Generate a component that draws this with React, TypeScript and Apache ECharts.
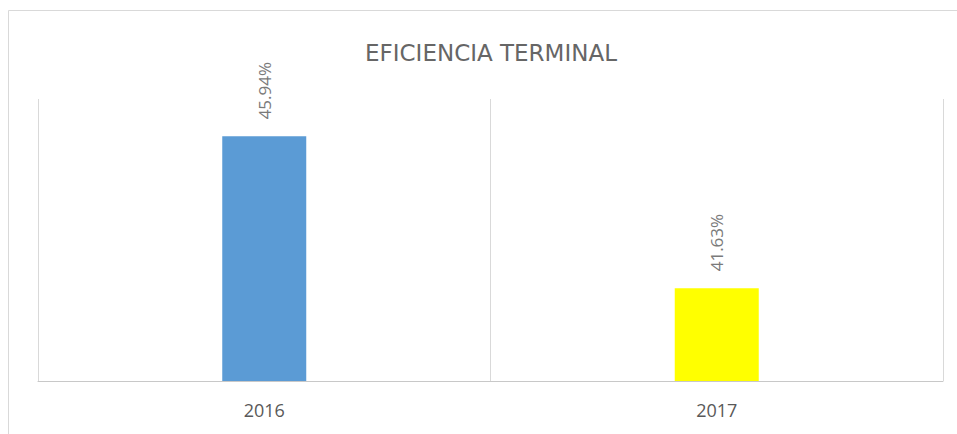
import React, { useEffect, useRef } from "react";
import * as echarts from "echarts";

const categories = ["2016", "2017"];
const values = [45.94, 41.63];
const barColors = ["#5B9BD5", "#FFFF00"];
const titleText = "EFICIENCIA TERMINAL";

export default function App() {
  const ref = useRef<HTMLDivElement>(null);
  useEffect(() => {
    if (!ref.current) return;
    const chart = echarts.init(ref.current, undefined, { renderer: "svg" });
    chart.setOption({
      animation: false,
      backgroundColor: "#ffffff",
      title: {
        text: titleText,
        left: 486,
        textAlign: "center",
        top: 36,
        textStyle: {
          fontFamily: "'DejaVu Sans', sans-serif",
          fontSize: 23,
          fontWeight: "normal",
          color: "#666666",
        },
      },
      graphic: [
        {
          type: "rect",
          shape: { x: 8.5, y: 10.5, width: 1000, height: 500 },
          style: { fill: "none", stroke: "#d9d9d9", lineWidth: 1 },
          silent: true,
        },
      ],
      grid: { left: 38, right: 14, top: 99, bottom: 53 },
      xAxis: {
        type: "category",
        data: categories,
        boundaryGap: true,
        axisLine: { show: true, lineStyle: { color: "#c8c8c8", width: 1 } },
        axisTick: { show: false },
        splitLine: { show: true, lineStyle: { color: "#d9d9d9", width: 1 } },
        axisLabel: {
          color: "#595959",
          fontSize: 18,
          margin: 20,
          fontFamily: "'Open Sans', 'Liberation Sans', sans-serif",
        },
      },
      yAxis: {
        type: "value",
        min: 39,
        max: 47,
        show: false,
        splitLine: { show: false },
      },
      series: [
        {
          type: "bar",
          barWidth: 84,
          data: values.map((v, i) => ({ value: v, itemStyle: { color: barColors[i] } })),
          label: {
            show: true,
            position: "top",
            rotate: 90,
            align: "left",
            verticalAlign: "middle",
            distance: 17,
            color: "#7a7a7a",
            fontSize: 17,
            fontFamily: "'Open Sans', 'Liberation Sans', sans-serif",
            formatter: (p: any) => p.value.toFixed(2) + "%",
          },
        },
      ],
    });
    return () => chart.dispose();
  }, []);
  return (
    <div
      ref={ref}
      style={{ position: "fixed", left: 0, top: 0, width: 957, height: 434 }}
    />
  );
}
